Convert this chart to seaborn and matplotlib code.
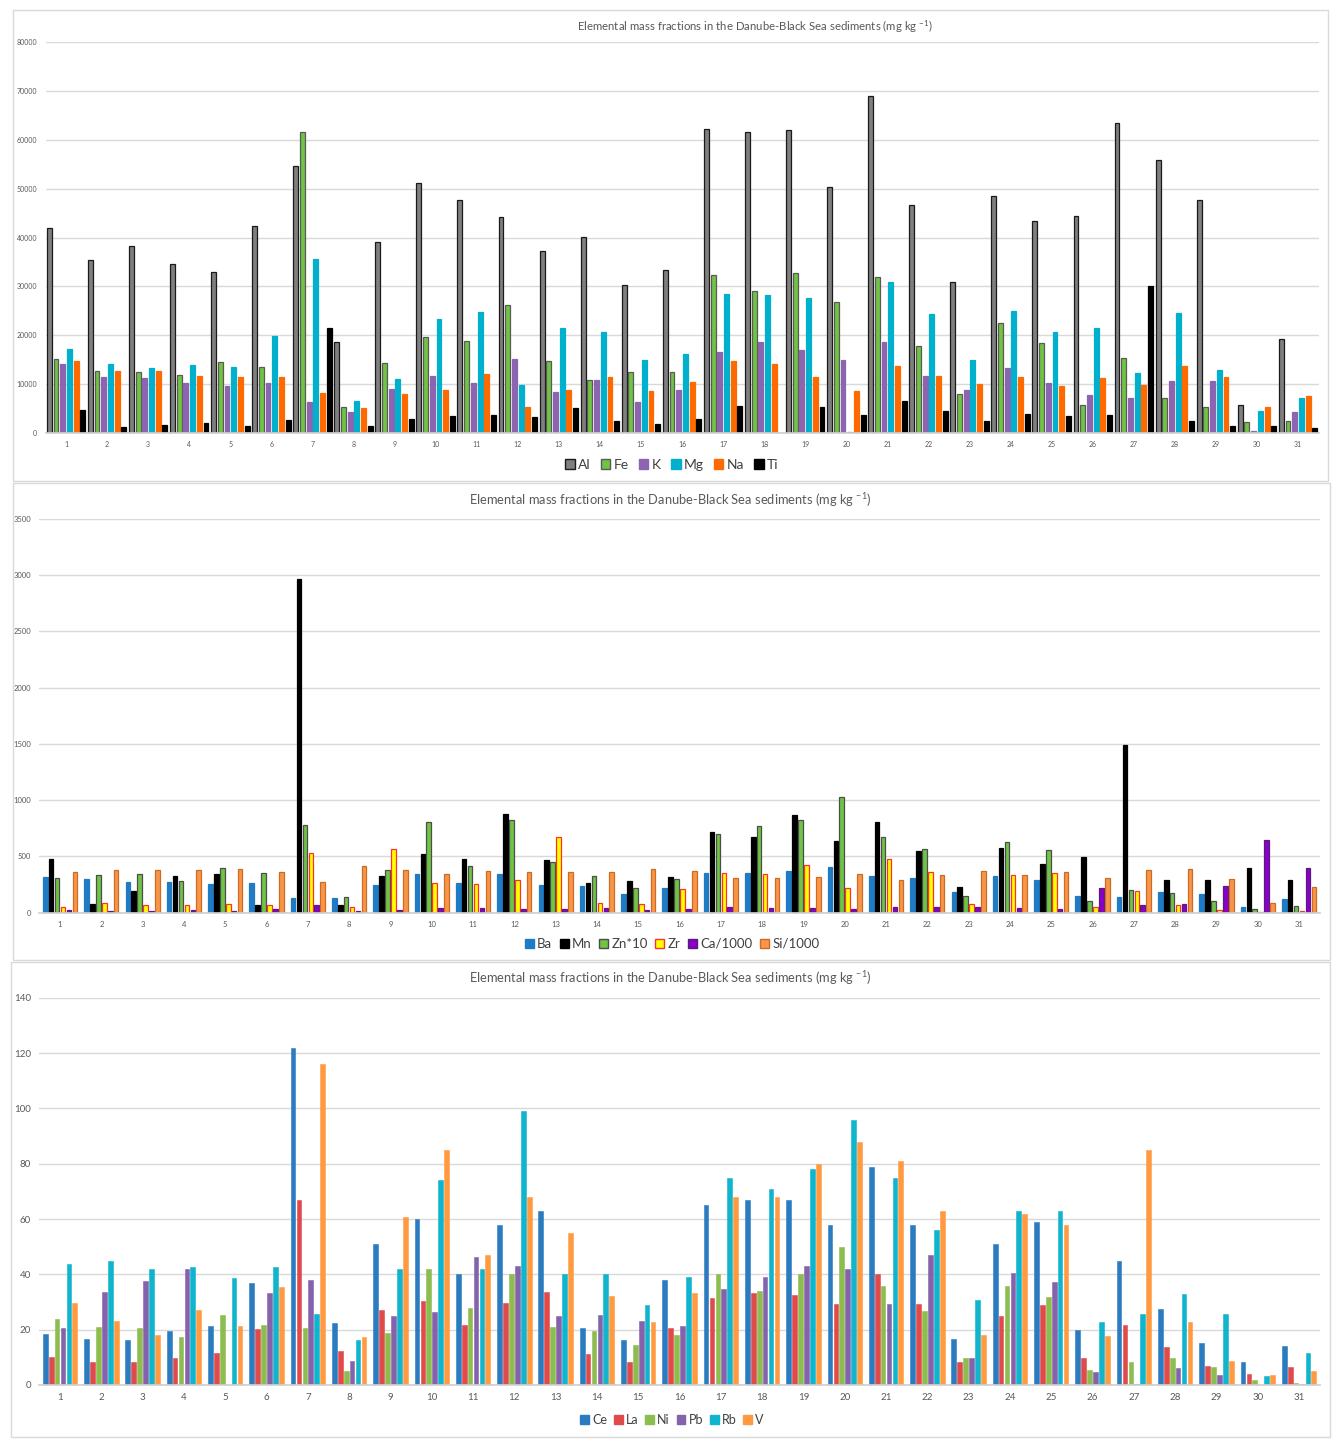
import matplotlib
matplotlib.use('Agg')
import matplotlib.pyplot as plt
import matplotlib.patches as mpatches
import seaborn as sns
import pandas as pd

samples = [str(i) for i in range(1, 32)]

# panel 1 (mg/kg)
al = [41900, 35300, 38300, 34600, 33000, 42300, 54600, 18700, 39100, 51100,
      47700, 44100, 37200, 40200, 30300, 33300, 62300, 61500, 61900, 50400,
      68900, 46600, 30800, 48400, 43400, 44500, 63400, 55800, 47600, 5800, 19200]
fe = [15100, 12700, 12500, 11900, 14500, 13500, 61500, 5300, 14300, 19600,
      18900, 26100, 14800, 10900, 12500, 12400, 32400, 29100, 32700, 26800,
      31900, 17800, 8000, 22600, 18400, 5800, 15300, 7200, 5400, 2200, 2500]
k = [14100, 11500, 11200, 10200, 9700, 10300, 6300, 4200, 9100, 11700,
     10300, 15200, 8300, 10800, 6300, 8800, 16500, 18600, 17000, 14900,
     18700, 11600, 8800, 13300, 10300, 7700, 7100, 10600, 10600, 500, 4200]
mg = [17200, 14200, 13300, 13900, 13500, 19900, 35700, 6500, 11000, 23300,
      24800, 9900, 21500, 20600, 15000, 16200, 28400, 28200, 27600, 300,
      30900, 24400, 15000, 25000, 20700, 21400, 12300, 24500, 12900, 4600, 7200]
na = [14800, 12700, 12700, 11600, 11400, 11500, 8200, 5100, 8000, 8800,
      12000, 5300, 8800, 11400, 8600, 10500, 14800, 14200, 11500, 8600,
      13800, 11600, 10100, 11500, 9600, 11200, 9900, 13800, 11500, 5400, 7500]
ti = [4700, 1300, 1600, 2000, 1500, 2700, 21500, 1500, 2900, 3500,
      3700, 3300, 5100, 2500, 1800, 2900, 5600, 0, 5400, 3700,
      6500, 4500, 2400, 3900, 3400, 3700, 30000, 2500, 1500, 1400, 1100]

# panel 2
ba = [318, 297, 276, 276, 258, 264, 134, 134, 246, 344,
      264, 347, 246, 234, 166, 217, 353, 353, 368, 409,
      323, 306, 184, 323, 288, 145, 139, 187, 163, 47, 122]
mn = [478, 74, 190, 323, 347, 71, 2965, 71, 323, 525,
      475, 881, 469, 267, 285, 315, 715, 677, 869, 641,
      807, 549, 226, 579, 430, 498, 1495, 294, 294, 395, 294]
zn10 = [309, 338, 344, 279, 401, 353, 780, 137, 377, 807,
        415, 828, 451, 323, 217, 297, 700, 769, 822, 1030,
        677, 567, 145, 629, 555, 104, 205, 175, 107, 33, 59]
zr = [47, 86, 71, 65, 74, 68, 528, 47, 567, 261,
      258, 288, 677, 89, 80, 211, 350, 347, 424, 217,
      478, 365, 74, 332, 350, 53, 193, 68, 21, 3, 18]
ca1000 = [27, 18, 12, 24, 15, 33, 68, 12, 27, 39,
          45, 30, 36, 45, 21, 33, 50, 45, 45, 33,
          53, 50, 47, 42, 30, 223, 65, 77, 240, 644, 401]
si1000 = [362, 380, 380, 380, 386, 362, 270, 415, 380, 344,
          368, 362, 362, 359, 386, 374, 306, 312, 318, 341,
          294, 338, 374, 338, 362, 312, 377, 386, 303, 89, 231]

# panel 3
ce = [18.6, 16.6, 16.1, 19.5, 21.2, 36.9, 121.8, 22.3, 51.0, 59.9,
      40.0, 57.8, 62.9, 20.5, 16.1, 38.0, 64.9, 67.0, 67.0, 57.8,
      78.8, 57.8, 16.6, 51.0, 58.8, 19.9, 44.8, 27.3, 15.1, 8.3, 14.0]
la = [10.2, 8.3, 8.4, 9.6, 11.6, 20.2, 66.9, 12.4, 27.1, 30.5,
      21.8, 29.5, 33.6, 11.2, 8.4, 20.5, 31.4, 33.4, 32.5, 29.4,
      40.0, 29.4, 8.3, 25.1, 29.0, 9.8, 21.7, 13.9, 7.0, 4.0, 6.5]
ni = [23.7, 20.8, 20.5, 17.2, 25.4, 21.6, 20.7, 4.9, 18.9, 41.9,
      27.7, 40.0, 21.1, 19.6, 14.5, 18.0, 40.0, 34.0, 40.0, 49.9,
      35.9, 26.7, 9.9, 35.9, 31.9, 5.4, 8.3, 9.9, 6.4, 1.7, 0.6]
pb = [20.6, 33.5, 37.5, 42.0, 0, 33.4, 38.1, 8.7, 24.9, 26.4,
      46.1, 42.9, 24.8, 25.4, 23.0, 21.4, 34.7, 39.2, 43.0, 41.8,
      29.4, 47.1, 9.8, 40.4, 37.3, 4.6, 0.2, 6.1, 3.6, 0, 0.2]
rb = [43.9, 44.8, 41.9, 42.8, 38.8, 42.8, 25.8, 16.4, 41.9, 74.0,
      41.9, 98.9, 40.0, 40.0, 28.9, 38.9, 74.8, 71.0, 78.0, 95.8,
      74.8, 55.9, 30.8, 62.9, 62.9, 22.9, 25.8, 32.9, 25.8, 3.1, 11.4]
v = [29.6, 23.0, 18.1, 27.0, 21.2, 35.3, 115.9, 17.2, 60.8, 84.9,
     47.0, 68.0, 54.9, 32.2, 22.7, 33.1, 68.0, 68.0, 80.0, 88.0,
     80.8, 62.9, 18.1, 61.8, 57.8, 17.8, 84.9, 22.7, 8.8, 3.5, 5.1]

p1_names = ['Al', 'Fe', 'K', 'Mg', 'Na', 'Ti']
p1_fill = ['#7f7f7f', '#70c444', '#8c64b0', '#00b0cc', '#ff6a00', '#000000']
p1_edge = ['#1a1a1a', '#5a5a5a', '#8c64b0', '#00b0cc', '#ff6a00', '#000000']

p2_names = ['Ba', 'Mn', 'Zn*10', 'Zr', 'Ca/1000', 'Si/1000']
p2_fill = ['#1f7cc4', '#000000', '#70c444', '#ffff00', '#8a00c8', '#f7964a']
p2_edge = ['#1f7cc4', '#000000', '#4d4d4d', '#ff3030', '#5a1a80', '#d06a20']

p3_names = ['Ce', 'La', 'Ni', 'Pb', 'Rb', 'V']
p3_fill = ['#2a7bc0', '#e04a4a', '#8dbc4f', '#8462ac', '#10b4cc', '#ff9a40']

title = 'Elemental mass fractions in the Danube-Black Sea sediments (mg kg $^{\\mathregular{-1}}$)'

sns.set_theme(style='white')
plt.rcParams['font.family'] = ['Lato', 'DejaVu Sans']
plt.rcParams['mathtext.default'] = 'regular'

W, H = 1339, 1446
fig = plt.figure(figsize=(W / 100, H / 100), dpi=100)


def px_axes(left, right, top, bottom):
    return fig.add_axes([left / W, 1 - bottom / H, (right - left) / W, (bottom - top) / H])


def draw(ax, series, names, fills, edges, width, gap, lw, ymax, ystep, tick_fs):
    df = pd.DataFrame({'Sample': samples * len(series),
                       'Element': [n for n in names for _ in samples],
                       'Value': [x for s in series for x in s]})
    sns.barplot(data=df, x='Sample', y='Value', hue='Element', order=samples,
                hue_order=names, palette=fills, saturation=1, width=width,
                gap=gap, legend=False, ax=ax)
    for cont, ec in zip(ax.containers, edges):
        for bar in cont:
            bar.set_edgecolor(ec)
            bar.set_linewidth(lw)
    ax.set_ylim(0, ymax)
    ax.set_yticks(range(0, ymax + 1, ystep))
    ax.set_xlim(-0.5, len(samples) - 0.5)
    ax.set_xlabel('')
    ax.set_ylabel('')
    ax.set_axisbelow(True)
    ax.yaxis.grid(True, color='#d9d9d9', lw=1)
    for s in ['top', 'right', 'left']:
        ax.spines[s].set_visible(False)
    ax.spines['bottom'].set_color('#d0d0d0')
    ax.tick_params(axis='both', length=0, labelsize=tick_fs, labelcolor='#595959')
    ax.tick_params(axis='y', pad=6)
    ax.tick_params(axis='x', pad=6)
    ax.set_facecolor('white')


def legend(names, fills, edges, x, y, fs, colsp):
    handles = [mpatches.Patch(facecolor=f, edgecolor=e, lw=1) for f, e in zip(fills, edges)]
    fig.legend(handles, names, loc='center', bbox_to_anchor=(x / W, 1 - y / H), ncol=6,
               frameon=False, fontsize=fs, handlelength=0.7, handleheight=0.7,
               handletextpad=0.25, columnspacing=colsp, labelcolor='#404040')


# panel frames
for (x0, y0, x1, y1) in [(13, 10, 1328, 481), (13, 483, 1330, 960), (11, 962, 1330, 1437)]:
    fig.add_artist(mpatches.Rectangle((x0 / W, 1 - y1 / H), (x1 - x0) / W, (y1 - y0) / H,
                                      transform=fig.transFigure, fill=False,
                                      edgecolor='#d9d9d9', lw=1))

ax1 = px_axes(45.5, 1318.6, 42, 433)
draw(ax1, [al, fe, k, mg, na, ti], p1_names, p1_fill, p1_edge, 0.98, 0.27, 0.9, 80000, 10000, 5)
fig.text(755 / W, 1 - 27 / H, title, ha='center', va='center', fontsize=8.2, color='#595959')
legend(p1_names, p1_fill, p1_edge, 672, 465, 10, 0.7)

ax2 = px_axes(39.4, 1319.7, 519, 912.7)
draw(ax2, [ba, mn, zn10, zr, ca1000, si1000], p2_names, p2_fill, p2_edge, 0.86, 0.22, 0.9, 3500, 500, 5.5)
fig.text(670 / W, 1 - 500 / H, title, ha='center', va='center', fontsize=9.3, color='#595959')
legend(p2_names, p2_fill, p2_edge, 672, 944, 9.5, 0.55)

ax3 = px_axes(39.4, 1319.7, 997.7, 1385)
draw(ax3, [ce, la, ni, pb, rb, v], p3_names, p3_fill, p3_fill, 0.86, 0.2, 0.4, 140, 20, 7)
fig.text(670 / W, 1 - 978 / H, title, ha='center', va='center', fontsize=9.3, color='#595959')
legend(p3_names, p3_fill, p3_fill, 672, 1420, 9, 0.55)

fig.savefig('out.png', dpi=100, facecolor='white')
